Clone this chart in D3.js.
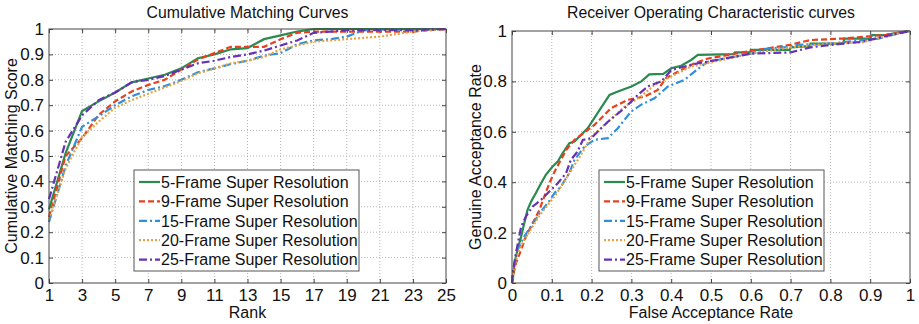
<!DOCTYPE html>
<html><head><meta charset="utf-8">
<script src="https://cdn.jsdelivr.net/npm/d3@7"></script>
<style>body{margin:0;background:#fff}svg{display:block}text{font-family:"Liberation Sans",Arial,sans-serif;fill:#111}</style>
</head><body><div id="c"></div>
<script>
// ---------- data ----------
const seriesNames = ["5-Frame Super Resolution","9-Frame Super Resolution","15-Frame Super Resolution","20-Frame Super Resolution","25-Frame Super Resolution"];
const ranks = d3.range(1,26);
const rankTicks = [1,3,5,7,9,11,13,15,17,19,21,23,25];
const cmcTicks = [0,0.1,0.2,0.3,0.4,0.5,0.6,0.7,0.8,0.9,1];
const rocXTicks = [0,0.1,0.2,0.3,0.4,0.5,0.6,0.7,0.8,0.9,1];
const rocYTicks = [0,0.2,0.4,0.6,0.8,1];

const cmc5  = [0.29,0.51,0.677,0.715,0.75,0.79,0.805,0.82,0.845,0.885,0.9,0.92,0.925,0.96,0.975,0.99,1,1,1,1,1,1,1,1,1];
const cmc9  = [0.26,0.50,0.57,0.662,0.715,0.754,0.78,0.80,0.84,0.88,0.905,0.93,0.93,0.93,0.96,0.985,0.99,0.99,0.99,0.99,0.99,0.99,0.99,0.995,1];
const cmc15 = [0.24,0.46,0.615,0.656,0.70,0.735,0.76,0.775,0.80,0.83,0.845,0.862,0.875,0.895,0.905,0.94,0.955,0.96,0.97,0.995,0.997,0.997,0.997,0.998,1];
const cmc20 = [0.25,0.45,0.575,0.635,0.69,0.72,0.745,0.77,0.795,0.825,0.845,0.865,0.875,0.89,0.92,0.935,0.95,0.955,0.96,0.965,0.97,0.98,0.99,0.995,1];
const cmc25 = [0.33,0.555,0.66,0.72,0.75,0.79,0.80,0.815,0.84,0.865,0.875,0.89,0.90,0.915,0.935,0.955,0.985,0.99,0.995,0.995,0.995,0.995,0.995,0.998,1];

const far5  = [0,0.002,0.006,0.014,0.023,0.031,0.039,0.048,0.06,0.073,0.085,0.102,0.115,0.127,0.144,0.157,0.19,0.215,0.245,0.266,0.30,0.325,0.345,0.38,0.40,0.425,0.45,0.467,0.556,0.56,0.598,0.60,0.698,0.70,0.748,0.75,0.832,0.835,0.899,0.905,0.94,0.975,1];
const gar5  = [0,0.013,0.079,0.132,0.185,0.238,0.29,0.323,0.357,0.396,0.429,0.462,0.482,0.515,0.555,0.561,0.614,0.674,0.746,0.76,0.78,0.80,0.828,0.83,0.852,0.862,0.885,0.905,0.908,0.915,0.915,0.925,0.925,0.935,0.94,0.95,0.95,0.97,0.97,0.984,0.985,0.995,1];
const far9  = [0,0.002,0.01,0.023,0.035,0.052,0.069,0.081,0.094,0.107,0.123,0.136,0.157,0.207,0.249,0.291,0.333,0.366,0.387,0.425,0.459,0.49,0.597,0.698,0.75,0.83,0.94,1];
const gar9  = [0,0.026,0.079,0.132,0.185,0.238,0.29,0.343,0.396,0.442,0.489,0.528,0.568,0.627,0.694,0.727,0.74,0.766,0.813,0.845,0.872,0.89,0.92,0.945,0.964,0.97,0.985,1];
const far15 = [0,0.002,0.014,0.031,0.048,0.069,0.09,0.107,0.123,0.144,0.157,0.182,0.207,0.241,0.266,0.299,0.324,0.358,0.392,0.433,0.475,0.492,0.6,0.64,0.69,0.72,0.8,0.88,0.92,0.97,1];
const gar15 = [0,0.04,0.132,0.185,0.224,0.277,0.317,0.357,0.383,0.436,0.489,0.541,0.568,0.575,0.614,0.68,0.707,0.733,0.78,0.806,0.859,0.878,0.91,0.93,0.936,0.945,0.95,0.964,0.97,0.99,1];
const far20 = [0,0.004,0.015,0.03,0.05,0.07,0.09,0.11,0.13,0.15,0.17,0.199,0.241,0.283,0.324,0.358,0.408,0.45,0.49,0.6,0.7,0.8,0.88,0.93,0.97,1];
const gar20 = [0,0.05,0.12,0.17,0.22,0.27,0.31,0.35,0.40,0.45,0.50,0.58,0.64,0.70,0.74,0.786,0.826,0.859,0.872,0.91,0.935,0.95,0.955,0.975,0.99,1];
const far25 = [0,0.002,0.01,0.023,0.035,0.052,0.073,0.09,0.115,0.136,0.148,0.165,0.178,0.199,0.241,0.283,0.316,0.341,0.375,0.40,0.433,0.467,0.49,0.6,0.7,0.75,0.83,0.88,0.93,0.97,1];
const gar25 = [0,0.04,0.119,0.224,0.264,0.304,0.33,0.357,0.396,0.436,0.489,0.522,0.568,0.575,0.64,0.694,0.746,0.78,0.80,0.845,0.859,0.872,0.878,0.91,0.915,0.935,0.95,0.957,0.977,0.99,1];

// ---------- styles ----------
const colors = ["#2b8a4f","#e8401c","#2f8fd8","#e6a445","#6432b4"];
const dashes = [null,"6,3","8,3,2,3","2,2","8,3,2,3"];

const W=919,H=324;
const svg = d3.select("#c").append("svg").attr("width",W).attr("height",H);

function panel(cfg){
  const x = d3.scaleLinear().domain(cfg.xd).range([cfg.x0,cfg.x1]);
  const y = d3.scaleLinear().domain([0,1]).range([cfg.y0,cfg.y1]);
  const g = svg.append("g");
  // grid
  g.append("g").selectAll("line").data(cfg.xt.slice(1,-1)).join("line")
    .attr("x1",d=>x(d)).attr("x2",d=>x(d)).attr("y1",cfg.y0).attr("y2",cfg.y1)
    .attr("stroke","#b5b5b5").attr("stroke-dasharray","1,2");
  g.append("g").selectAll("line").data(cfg.yt.slice(1,-1)).join("line")
    .attr("y1",d=>y(d)).attr("y2",d=>y(d)).attr("x1",cfg.x0).attr("x2",cfg.x1)
    .attr("stroke","#b5b5b5").attr("stroke-dasharray","1,2");
  // axes
  g.append("g").attr("transform",`translate(0,${cfg.y0})`)
    .call(d3.axisBottom(x).tickValues(cfg.xt).tickSize(-4).tickPadding(6).tickFormat(cfg.xf));
  g.append("g").attr("transform",`translate(${cfg.x0},0)`)
    .call(d3.axisLeft(y).tickValues(cfg.yt).tickSize(-4).tickPadding(5).tickFormat(cfg.yf));
  g.append("g").attr("transform",`translate(0,${cfg.y1})`)
    .call(d3.axisTop(x).tickValues(cfg.xt).tickSize(-4).tickFormat(""));
  g.append("g").attr("transform",`translate(${cfg.x1},0)`)
    .call(d3.axisRight(y).tickValues(cfg.yt).tickSize(-4).tickFormat(""));
  g.selectAll(".domain").remove();
  g.selectAll(".tick line").attr("stroke","#444");
  g.selectAll(".tick text").attr("font-size","17px").attr("fill","#111")
    .attr("font-family",'"Liberation Sans",Arial,sans-serif');
  // lines
  const line = d3.line().x(d=>x(d[0])).y(d=>y(d[1]));
  cfg.series.forEach((s,i)=>{
    g.append("path").datum(s).attr("d",line).attr("fill","none")
      .attr("stroke",colors[i]).attr("stroke-width",2.2)
      .attr("stroke-dasharray",dashes[i]);
  });
  // frame
  g.append("rect").attr("x",cfg.x0).attr("y",cfg.y1).attr("width",cfg.x1-cfg.x0).attr("height",cfg.y0-cfg.y1)
    .attr("fill","none").attr("stroke","#444").attr("stroke-width",1);
  // titles
  const cx=(cfg.x0+cfg.x1)/2;
  g.append("text").attr("x",cx).attr("y",18).attr("text-anchor","middle").attr("font-size","15.8px").text(cfg.title);
  g.append("text").attr("x",cx).attr("y",318).attr("text-anchor","middle").attr("font-size","16px").text(cfg.xl);
  g.append("text").attr("transform",`translate(${cfg.ylx},${(cfg.y0+cfg.y1)/2}) rotate(-90)`)
    .attr("text-anchor","middle").attr("font-size","16px").text(cfg.yl);
  // legend
  const L = g.append("g");
  L.append("rect").attr("x",cfg.lx).attr("y",170).attr("width",225).attr("height",101)
    .attr("fill","#fff").attr("stroke","#555");
  seriesNames.forEach((n,i)=>{
    const yy = 182+i*19.4;
    L.append("line").attr("x1",cfg.lx+5).attr("x2",cfg.lx+26).attr("y1",yy).attr("y2",yy)
      .attr("stroke",colors[i]).attr("stroke-width",2.2).attr("stroke-dasharray",dashes[i]);
    L.append("text").attr("x",cfg.lx+27).attr("y",yy+5.8).attr("font-size","16px").text(n);
  });
}

const cmcSeries = [cmc5,cmc9,cmc15,cmc20,cmc25].map(v=>ranks.map((r,i)=>[r,v[i]]));
const rocSeries = [[far5,gar5],[far9,gar9],[far15,gar15],[far20,gar20],[far25,gar25]].map(([f,g])=>f.map((v,i)=>[v,g[i]]));

panel({x0:49,x1:446,y0:283,y1:29,xd:[1,25],xt:rankTicks,yt:cmcTicks,
  xf:d3.format("d"),yf:d=>d===0||d===1?String(d):d3.format(".1f")(d),
  series:cmcSeries,title:"Cumulative Matching Curves",xl:"Rank",yl:"Cumulative Matching Score",ylx:17,lx:134});
panel({x0:512,x1:910,y0:283,y1:31,xd:[0,1],xt:rocXTicks,yt:rocYTicks,
  xf:d=>d===0||d===1?String(d):d3.format(".1f")(d),yf:d=>d===0||d===1?String(d):d3.format(".1f")(d),
  series:rocSeries,title:"Receiver Operating Characteristic curves",xl:"False Acceptance Rate",yl:"Genuine Acceptance Rate",ylx:481,lx:599});
</script></body></html>
